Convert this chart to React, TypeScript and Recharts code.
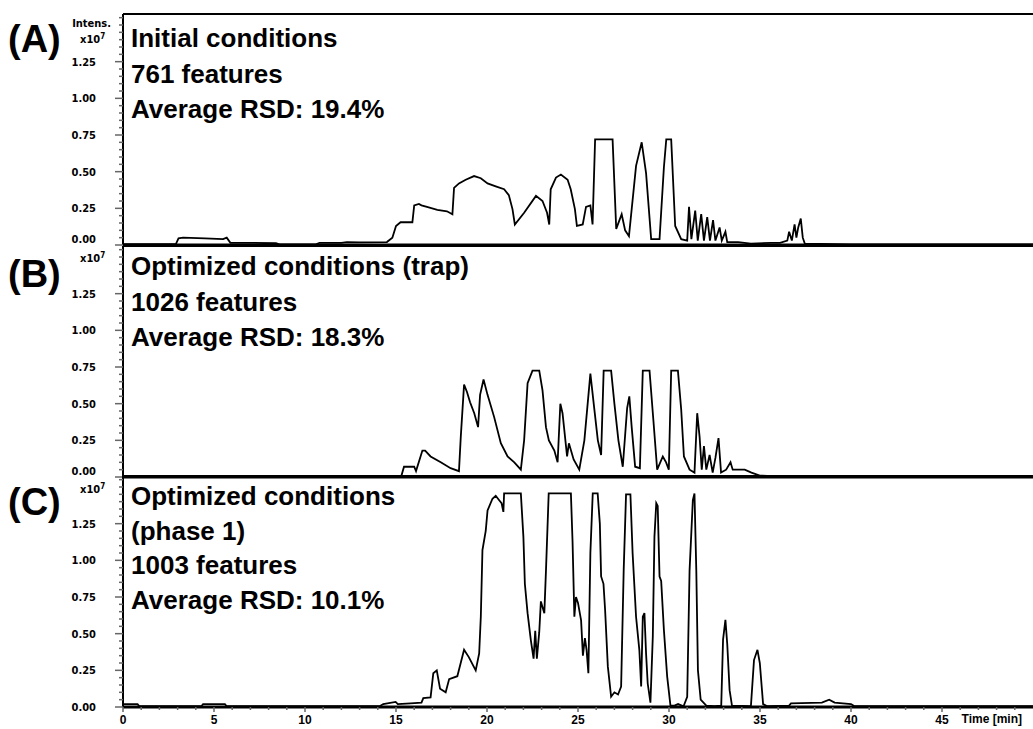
import { LineChart, Line, XAxis, YAxis, ReferenceLine } from 'recharts';

// Base peak chromatograms, intensity in units of 1e7, time in minutes
const traceInitial: [number, number][] = [
  [0, 0.005], [2.9, 0.005], [3.05, 0.045], [3.3, 0.05], [4.5, 0.045], [5.5, 0.04], [5.7, 0.05],
  [5.9, 0.015], [7.0, 0.015], [8.4, 0.012], [8.6, 0.004], [10.6, 0.004], [10.8, 0.015], [12.0, 0.015],
  [12.3, 0.02], [13.0, 0.018], [14.5, 0.02], [14.8, 0.05], [15.0, 0.13], [15.25, 0.155], [15.9, 0.155],
  [16.0, 0.27], [16.26, 0.28], [16.4, 0.27], [16.7, 0.26], [17.27, 0.24], [17.8, 0.23], [18.1, 0.21],
  [18.19, 0.39], [18.46, 0.42], [18.83, 0.445], [19.29, 0.47], [19.66, 0.455], [20.03, 0.42],
  [20.48, 0.4], [20.94, 0.38], [21.2, 0.34], [21.4, 0.245], [21.53, 0.14], [22.04, 0.22],
  [22.69, 0.335], [23.05, 0.3], [23.3, 0.22], [23.42, 0.14], [23.5, 0.38], [23.79, 0.46],
  [24.06, 0.48], [24.43, 0.445], [24.6, 0.38], [24.83, 0.245], [24.94, 0.13], [25.26, 0.14],
  [25.44, 0.26], [25.68, 0.27], [25.8, 0.14], [25.94, 0.72], [26.9, 0.72], [27.1, 0.11], [27.4, 0.21],
  [27.59, 0.1], [27.8, 0.06], [28.19, 0.54], [28.5, 0.7], [28.74, 0.49], [29.02, 0.04], [29.48, 0.04],
  [29.72, 0.53], [29.85, 0.72], [30.12, 0.72], [30.34, 0.13], [30.67, 0.04], [31.0, 0.03], [31.1, 0.26],
  [31.23, 0.04], [31.44, 0.235], [31.58, 0.03], [31.77, 0.21], [31.92, 0.03], [32.1, 0.19],
  [32.25, 0.03], [32.42, 0.17], [32.55, 0.03], [32.78, 0.12], [32.9, 0.03], [33.1, 0.09], [33.2, 0.02],
  [33.8, 0.02], [34.5, 0.01], [35.6, 0.015], [36.1, 0.015], [36.5, 0.03], [36.6, 0.09], [36.75, 0.03],
  [36.9, 0.14], [37.0, 0.05], [37.1, 0.12], [37.24, 0.18], [37.35, 0.05], [37.46, 0.01], [40, 0.004],
  [50, 0.004],
];

const traceTrap: [number, number][] = [
  [0, 0.003], [15.3, 0.01], [15.44, 0.07], [16.0, 0.07], [16.1, 0.04], [16.45, 0.18], [16.6, 0.18],
  [16.9, 0.14], [17.46, 0.1], [18.0, 0.06], [18.46, 0.04], [18.56, 0.275], [18.74, 0.63], [18.9, 0.58],
  [19.07, 0.51], [19.3, 0.435], [19.51, 0.34], [19.62, 0.56], [19.81, 0.665], [20.03, 0.56],
  [20.39, 0.41], [20.76, 0.23], [21.13, 0.14], [21.5, 0.1], [21.86, 0.05], [22.04, 0.25], [22.23, 0.64],
  [22.5, 0.725], [22.87, 0.725], [23.05, 0.59], [23.24, 0.34], [23.4, 0.25], [23.7, 0.18], [23.88, 0.1],
  [24.03, 0.5], [24.15, 0.435], [24.4, 0.14], [24.5, 0.23], [24.76, 0.12], [25.07, 0.05], [25.35, 0.25],
  [25.68, 0.705], [25.9, 0.46], [26.09, 0.25], [26.27, 0.15], [26.41, 0.725], [26.82, 0.725],
  [27.0, 0.5], [27.22, 0.25], [27.46, 0.07], [27.7, 0.47], [27.82, 0.55], [27.95, 0.34], [28.14, 0.07],
  [28.4, 0.06], [28.56, 0.725], [28.93, 0.725], [29.14, 0.39], [29.35, 0.05], [29.66, 0.14],
  [29.84, 0.1], [29.99, 0.05], [30.12, 0.725], [30.49, 0.725], [30.67, 0.46], [30.82, 0.14],
  [31.13, 0.05], [31.4, 0.03], [31.55, 0.435], [31.68, 0.275], [31.8, 0.05], [31.92, 0.21],
  [32.05, 0.05], [32.23, 0.15], [32.4, 0.03], [32.55, 0.13], [32.72, 0.265], [32.86, 0.03],
  [33.14, 0.05], [33.38, 0.1], [33.5, 0.05], [34.16, 0.05], [34.53, 0.03], [34.99, 0.01], [36, 0.004],
  [50, 0.003],
];

const tracePhase1: [number, number][] = [
  [0, 0.02], [0.8, 0.02], [0.9, 0.005], [4.3, 0.005], [4.4, 0.02], [5.6, 0.02], [5.7, 0.005],
  [14.1, 0.005], [14.3, 0.02], [14.98, 0.035], [15.1, 0.02], [15.8, 0.025], [16.4, 0.03], [16.5, 0.06],
  [16.9, 0.065], [17.05, 0.23], [17.24, 0.25], [17.42, 0.125], [17.73, 0.1], [17.92, 0.19],
  [18.37, 0.21], [18.74, 0.39], [19.0, 0.34], [19.38, 0.25], [19.57, 0.365], [19.66, 0.615],
  [19.75, 1.07], [19.93, 1.2], [20.03, 1.34], [20.3, 1.42], [20.48, 1.44], [20.67, 1.41], [20.8, 1.39],
  [20.9, 1.33], [20.94, 1.456], [21.86, 1.456], [22.0, 1.16], [22.08, 0.84], [22.23, 0.64],
  [22.41, 0.455], [22.56, 0.33], [22.65, 0.52], [22.74, 0.33], [22.87, 0.51], [22.96, 0.72],
  [23.15, 0.64], [23.24, 0.93], [23.39, 1.456], [24.61, 1.456], [24.7, 1.13], [24.8, 0.616],
  [24.89, 0.75], [25.0, 0.71], [25.17, 0.59], [25.27, 0.35], [25.38, 0.47], [25.47, 0.39],
  [25.57, 0.23], [25.68, 1.05], [25.81, 1.456], [26.08, 1.456], [26.2, 1.25], [26.27, 0.89],
  [26.4, 0.84], [26.49, 0.66], [26.64, 0.275], [26.82, 0.07], [27.0, 0.1], [27.2, 0.085],
  [27.37, 0.14], [27.51, 0.93], [27.64, 1.45], [27.88, 1.45], [28.0, 1.05], [28.19, 0.615],
  [28.37, 0.39], [28.47, 0.14], [28.56, 0.615], [28.65, 0.64], [28.74, 0.365], [28.83, 0.16],
  [28.98, 0.03], [29.11, 0.48], [29.2, 1.16], [29.3, 1.39], [29.38, 1.37], [29.48, 0.89],
  [29.57, 0.86], [29.72, 0.525], [29.9, 0.207], [30.08, 0.01], [30.3, 0.01], [30.5, 0.02],
  [30.8, 0.005], [31.0, 0.07], [31.13, 0.93], [31.31, 1.41], [31.4, 1.456], [31.5, 0.93],
  [31.59, 0.25], [31.74, 0.05], [32.05, 0.01], [32.5, 0.005], [32.87, 0.01], [32.97, 0.46],
  [33.1, 0.594], [33.2, 0.43], [33.33, 0.115], [33.46, 0.01], [34.5, 0.005], [34.67, 0.32],
  [34.86, 0.39], [34.99, 0.3], [35.17, 0.02], [35.4, 0.005], [36.6, 0.01], [36.7, 0.025],
  [38.4, 0.03], [38.8, 0.05], [39.1, 0.03], [40.0, 0.02], [40.2, 0.005], [50, 0.005],
];

const yMajorTicks = [0, 0.25, 0.5, 0.75, 1.0, 1.25];
const yMinorTicks = [
  0.05, 0.1, 0.15, 0.2, 0.3, 0.35, 0.4, 0.45, 0.55, 0.6, 0.65, 0.7, 0.8, 0.85, 0.9, 0.95,
  1.05, 1.1, 1.15, 1.2, 1.3, 1.35, 1.4, 1.45, 1.5, 1.55,
];
const xMajorTicks = [0, 5, 10, 15, 20, 25, 30, 35, 40, 45];
const xMinorTicks = [
  1, 2, 3, 4, 6, 7, 8, 9, 11, 12, 13, 14, 16, 17, 18, 19, 21, 22, 23, 24, 26, 27, 28, 29,
  31, 32, 33, 34, 36, 37, 38, 39, 41, 42, 43, 44, 46, 47, 48, 49,
];

const panelLetters = ['(A)', '(B)', '(C)'];
const panelNotes = [
  ['Initial conditions', '761 features', 'Average RSD: 19.4%'],
  ['Optimized conditions (trap)', '1026 features', 'Average RSD: 18.3%'],
  ['Optimized conditions', '(phase 1)', '1003 features', 'Average RSD: 10.1%'],
];

const Y_MAX = 1.575;
const X_MAX = 50;
const PLOT_H = 231;
const PAD_TOP = 4;
const AXIS_W = 123;
const panelTops = [14, 246, 476];

const narrow = "'Liberation Sans Narrow', 'DejaVu Sans Condensed', 'Arial Narrow', sans-serif";
const sans = "'Liberation Sans', Arial, sans-serif";

const yTicks = [...yMajorTicks, ...yMinorTicks].sort((a, b) => a - b);
const xTicks = [...xMajorTicks, ...xMinorTicks].sort((a, b) => a - b);

function YTick(props: any) {
  const { x, y, payload, liftZero } = props;
  const v = payload.value as number;
  const major = yMajorTicks.includes(v);
  return (
    <g>
      <line x1={x - (major ? 8 : 4)} x2={x} y1={y} y2={y} stroke="#666" strokeWidth={1.5} />
      {major && (
        <text
          x={x - 27}
          y={y - (v === 0 ? liftZero : 0)}
          dy={4}
          textAnchor="end"
          fontFamily={narrow}
          fontWeight={700}
          fontSize={11}
          fill="#000"
        >
          {v.toFixed(2)}
        </text>
      )}
    </g>
  );
}

function XTick(props: any) {
  const { x, y, payload } = props;
  const v = payload.value as number;
  const major = xMajorTicks.includes(v);
  return (
    <g>
      <line x1={x} x2={x} y1={y} y2={y + (major ? 5 : 3)} stroke="#666" strokeWidth={1.5} />
      {major && (
        <text x={x} y={y + 17} textAnchor="middle" fontFamily={sans} fontWeight={700} fontSize={12} fill="#000">
          {v}
        </text>
      )}
    </g>
  );
}

function Panel({ data, top, showTime, liftZero }: { data: [number, number][]; top: number; showTime: boolean; liftZero: number }) {
  const rows = data.map(([t, v]) => ({ t, v }));
  const axisH = showTime ? 24 : 3;
  return (
    <div style={{ position: 'absolute', left: 0, top: top - PAD_TOP }}>
      <LineChart width={1033} height={PAD_TOP + PLOT_H + axisH} data={rows} margin={{ top: PAD_TOP, right: 0, bottom: 0, left: 0 }}>
        <XAxis
          dataKey="t"
          type="number"
          domain={[0, X_MAX]}
          ticks={xTicks}
          interval={0}
          allowDataOverflow
          height={axisH}
          tickSize={0}
          tickMargin={0}
          tickLine={false}
          tick={showTime ? <XTick /> : false}
          axisLine={{ stroke: '#000', strokeWidth: 3 }}
        />
        <YAxis
          type="number"
          domain={[0, Y_MAX]}
          ticks={yTicks}
          interval={0}
          allowDataOverflow
          width={AXIS_W}
          tickSize={0}
          tickMargin={0}
          tickLine={false}
          tick={<YTick liftZero={liftZero} />}
          axisLine={{ stroke: '#000', strokeWidth: 2 }}
        />
        <ReferenceLine y={Y_MAX} stroke="#000" strokeWidth={2} />
        <Line type="linear" dataKey="v" stroke="#000" strokeWidth={1.8} dot={false} isAnimationActive={false} />
      </LineChart>
    </div>
  );
}

export default function App() {
  const traces = [traceInitial, traceTrap, tracePhase1];
  const noteBaselines = [
    [47, 83, 118],
    [275, 311, 346],
    [505, 540, 574, 609],
  ];
  const letterBaselines = [52, 287, 515];
  return (
    <div style={{ position: 'absolute', left: 0, top: 0, width: 1033, height: 729, background: '#fff', overflow: 'hidden' }}>
      {traces.map((tr, i) => (
        <Panel key={i} data={tr} top={panelTops[i]} showTime={i === 2} liftZero={i === 2 ? 0 : 6} />
      ))}
      <svg width={1033} height={729} style={{ position: 'absolute', left: 0, top: 0, pointerEvents: 'none' }}>
        {panelLetters.map((l, i) => (
          <text key={l} x={8} y={letterBaselines[i]} fontFamily={sans} fontWeight={700} fontSize={38} fill="#000">
            {l}
          </text>
        ))}
        {panelNotes.map((lines, i) =>
          lines.map((s, j) => (
            <text key={`${i}-${j}`} x={131} y={noteBaselines[i][j]} fontFamily={sans} fontWeight={700} fontSize={26} fill="#000">
              {s}
            </text>
          ))
        )}
        <text x={111} y={27} textAnchor="end" fontFamily={narrow} fontWeight={700} fontSize={11} fill="#000">
          Intens.
        </text>
        {[43, 262, 493].map((y) => (
          <text key={y} x={80} y={y} fontFamily={narrow} fontWeight={700} fontSize={11} fill="#000">
            x10<tspan dy={-4} fontSize={8}>7</tspan>
          </text>
        ))}
        <text x={1022} y={723} textAnchor="end" fontFamily={sans} fontWeight={700} fontSize={12} fill="#000">
          Time [min]
        </text>
      </svg>
    </div>
  );
}
